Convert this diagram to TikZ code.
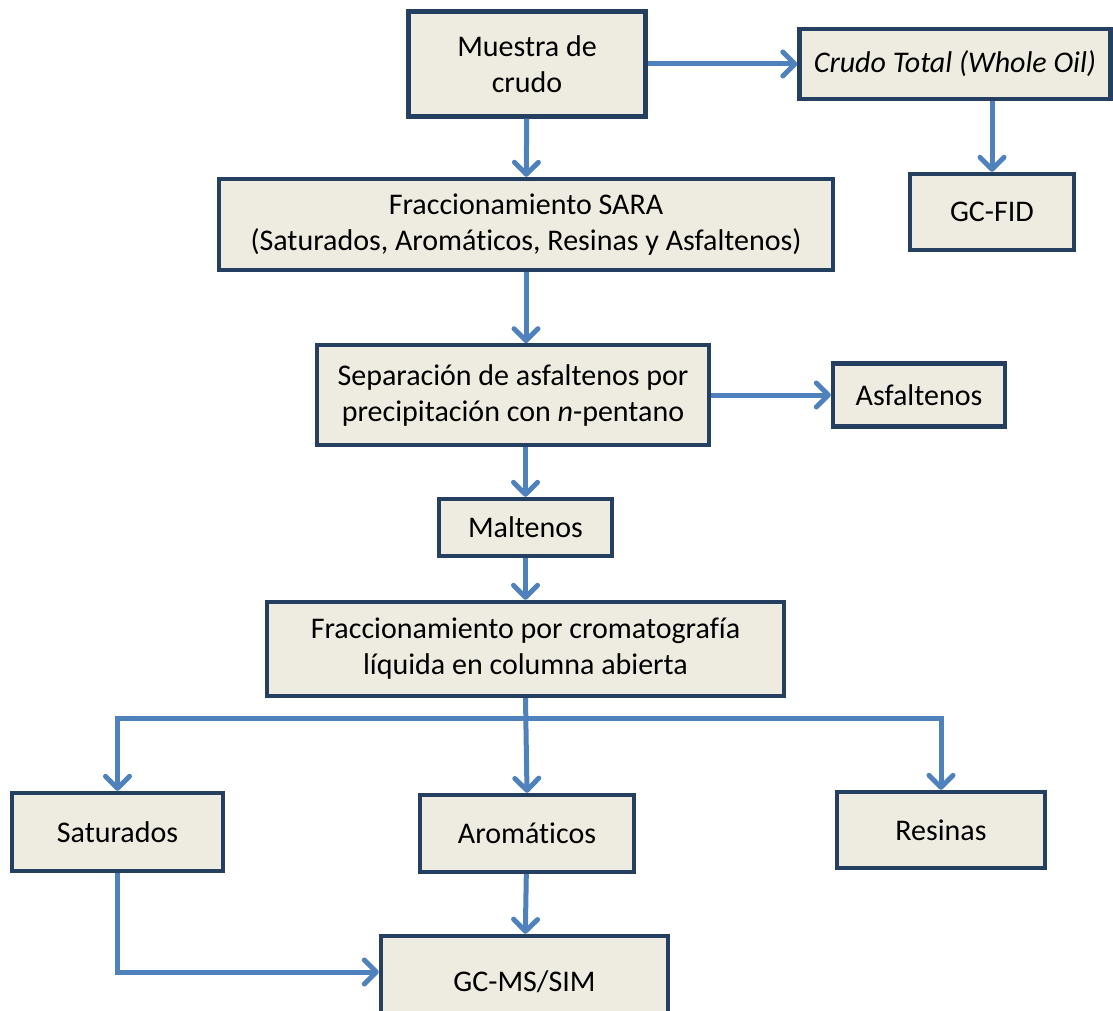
\documentclass[tikz,border=0pt]{standalone}
\usepackage{fontspec}
\setmainfont{Carlito}[Ligatures=NoCommon]
\usepackage{tikz}
\usetikzlibrary{positioning,arrows.meta,calc}
\definecolor{boxfill}{RGB}{238,236,225}
\definecolor{boxline}{RGB}{36,63,96}
\definecolor{arrblue}{RGB}{79,129,189}

\begin{document}
\begin{tikzpicture}[x=0.5pt, y=-0.5pt,
      box/.style={draw=boxline, fill=boxfill, line width=2.2pt, inner sep=0pt,
                  align=center, font=\fontsize{15}{18}\selectfont},
      arr/.style={-{Straight Barb[length=6pt, width=12pt, line cap=round, line join=round]},
                  draw=arrblue, line width=2.5pt}]
    \useasboundingbox (0,0) rectangle (1113,1011);
    % upper part
    \node[box, minimum width=118.5pt, minimum height=52.5pt] (muestra) at (527,64)
         {Muestra de\\ crudo};
    \node[box, minimum width=155.5pt, minimum height=35pt] (crudo) at (955,64)
         {\itshape Crudo Total (Whole Oil)};
    \node[box, minimum width=82pt, minimum height=38pt] (gcfid) at (992,212) {GC-FID};
    \node[box, minimum width=307pt, minimum height=45.5pt] (sara) at (526,224.5)
         {Fraccionamiento SARA\\ (Saturados, Aromáticos, Resinas y Asfaltenos)};
    \node[box, minimum width=196pt, minimum height=50pt] (sep) at (513,395)
         {Separación de asfaltenos por\\ precipitación con \emph{n}-pentano};
    \node[box, minimum width=86pt, minimum height=31.5pt] (asf) at (919,395) {Asfaltenos};
    \node[box, minimum width=86.5pt, minimum height=28.5pt] (malt) at (525.5,527.5) {Maltenos};
    \node[box, minimum width=258.5pt, minimum height=47pt] (frac) at (525.5,649)
         {Fraccionamiento por cromatografía\\ líquida en columna abierta};
    % fractions
    \node[box, minimum width=105.5pt, minimum height=39pt] (sat) at (117.5,832) {Saturados};
    \node[box, minimum width=107pt, minimum height=38.5pt] (aro) at (527,833.5) {Aromáticos};
    \node[box, minimum width=104pt, minimum height=38pt] (res) at (941,830) {Resinas};
    \node[box, minimum width=143.5pt, minimum height=46pt] (gcms) at (524.5,982) {GC-MS/SIM};
    \coordinate (split) at (525.5,718);

    \draw[arr] (muestra) -- (crudo);
    \draw[arr] (crudo.south -| gcfid.north) -- (gcfid.north);
    \draw[arr] (muestra) -- (sara);
    \draw[arr] (sara.south -| sep.north) ++(13,0) -- ++(0,71);
    \draw[arr] (sep) -- (asf);
    \draw[arr] (malt.north |- sep.south) -- (malt.north);
    \draw[arr] (malt) -- (frac);
    \draw[arr] (frac.south) -- (aro.north);
    \draw[arr] (split) -| (sat.north);
    \draw[arr] (split) -| (res.north);
    \draw[arr] (aro) -- (gcms);
    \draw[arr] (sat.south) |- ([yshift=5pt]gcms.west);
  \end{tikzpicture}
\end{document}
